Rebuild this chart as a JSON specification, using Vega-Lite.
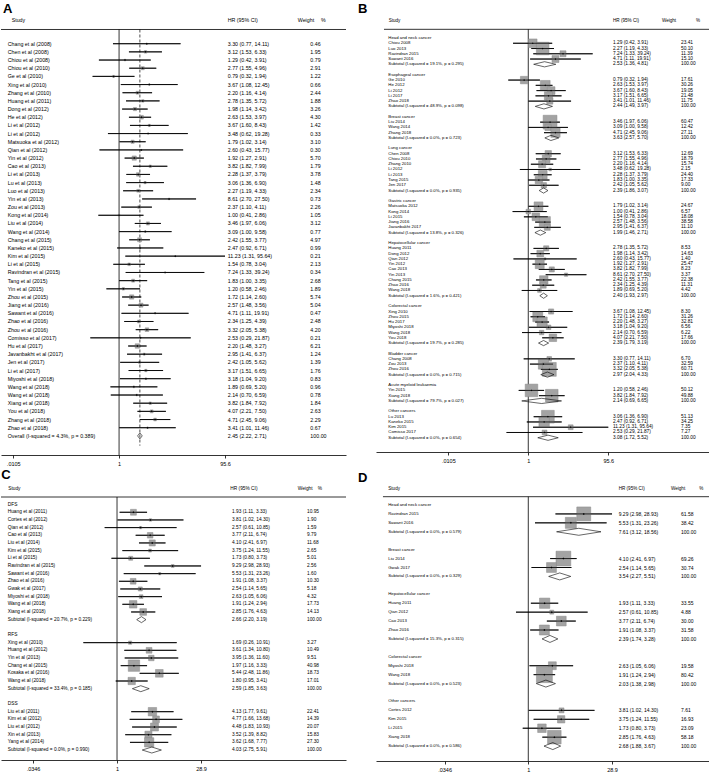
{
"$schema": "https://vega.github.io/schema/vega-lite/v6.json",
"padding": 0,
"background": "white",
"config": {
 "view": {"stroke": null},
 "text": {"font": "Liberation Sans", "color": "black", "baseline": "middle", "align": "left"},
 "rule": {"color": "black", "strokeWidth": 0.8},
 "axis": {"labelFont": "Liberation Sans", "labelColor": "black", "labelFontSize": 5.5, "domainColor": "black", "tickColor": "black", "tickSize": 3, "labelPadding": 3, "domainWidth": 0.8, "tickWidth": 0.8, "grid": false, "labelOverlap": false}
},
"datasets": {
 "A": [
  {"row":0,"label":"Chang et al (2008)","hr":3.30,"lo":0.77,"hi":14.11,"w":0.46,"ci":"3.30 (0.77, 14.11)","kind":"s"},
  {"row":1,"label":"Chen et al (2008)","hr":3.12,"lo":1.53,"hi":6.33,"w":1.95,"ci":"3.12 (1.53, 6.33)","kind":"s"},
  {"row":2,"label":"Chiou et al (2008)","hr":1.29,"lo":0.42,"hi":3.91,"w":0.79,"ci":"1.29 (0.42, 3.91)","kind":"s"},
  {"row":3,"label":"Chiou et al (2010)","hr":2.77,"lo":1.55,"hi":4.96,"w":2.91,"ci":"2.77 (1.55, 4.96)","kind":"s"},
  {"row":4,"label":"Ge et al (2010)","hr":0.79,"lo":0.32,"hi":1.94,"w":1.22,"ci":"0.79 (0.32, 1.94)","kind":"s"},
  {"row":5,"label":"Xing et al (2010)","hr":3.67,"lo":1.08,"hi":12.45,"w":0.66,"ci":"3.67 (1.08, 12.45)","kind":"s"},
  {"row":6,"label":"Zhang et al (2010)","hr":2.20,"lo":1.16,"hi":4.14,"w":2.44,"ci":"2.20 (1.16, 4.14)","kind":"s"},
  {"row":7,"label":"Huang et al (2011)","hr":2.78,"lo":1.35,"hi":5.72,"w":1.88,"ci":"2.78 (1.35, 5.72)","kind":"s"},
  {"row":8,"label":"Dong et al (2012)","hr":1.98,"lo":1.14,"hi":3.42,"w":3.26,"ci":"1.98 (1.14, 3.42)","kind":"s"},
  {"row":9,"label":"He et al (2012)","hr":2.63,"lo":1.53,"hi":3.97,"w":4.30,"ci":"2.63 (1.53, 3.97)","kind":"s"},
  {"row":10,"label":"Li et al (2012)","hr":3.67,"lo":1.60,"hi":8.43,"w":1.42,"ci":"3.67 (1.60, 8.43)","kind":"s"},
  {"row":11,"label":"Li et al (2012)","hr":3.48,"lo":0.62,"hi":19.28,"w":0.33,"ci":"3.48 (0.62, 19.28)","kind":"s"},
  {"row":12,"label":"Matsuoka et al (2012)","hr":1.79,"lo":1.02,"hi":3.14,"w":3.10,"ci":"1.79 (1.02, 3.14)","kind":"s"},
  {"row":13,"label":"Qian et al (2012)","hr":2.60,"lo":0.43,"hi":15.77,"w":0.30,"ci":"2.60 (0.43, 15.77)","kind":"s"},
  {"row":14,"label":"Yin et al (2012)","hr":1.92,"lo":1.27,"hi":2.91,"w":5.70,"ci":"1.92 (1.27, 2.91)","kind":"s"},
  {"row":15,"label":"Cao et al (2013)","hr":3.82,"lo":1.82,"hi":7.99,"w":1.79,"ci":"3.82 (1.82, 7.99)","kind":"s"},
  {"row":16,"label":"Li et al (2013)","hr":2.28,"lo":1.37,"hi":3.79,"w":3.78,"ci":"2.28 (1.37, 3.79)","kind":"s"},
  {"row":17,"label":"Lu et al (2013)","hr":3.06,"lo":1.36,"hi":6.90,"w":1.48,"ci":"3.06 (1.36, 6.90)","kind":"s"},
  {"row":18,"label":"Luo et al (2013)","hr":2.27,"lo":1.19,"hi":4.33,"w":2.34,"ci":"2.27 (1.19, 4.33)","kind":"s"},
  {"row":19,"label":"Yin et al (2013)","hr":8.61,"lo":2.70,"hi":27.50,"w":0.73,"ci":"8.61 (2.70, 27.50)","kind":"s"},
  {"row":20,"label":"Zou et al (2013)","hr":2.37,"lo":1.10,"hi":4.11,"w":2.26,"ci":"2.37 (1.10, 4.11)","kind":"s"},
  {"row":21,"label":"Kong et al (2014)","hr":1.00,"lo":0.41,"hi":2.86,"w":1.05,"ci":"1.00 (0.41, 2.86)","kind":"s"},
  {"row":22,"label":"Liu et al (2014)","hr":3.46,"lo":1.97,"hi":6.06,"w":3.12,"ci":"3.46 (1.97, 6.06)","kind":"s"},
  {"row":23,"label":"Wang et al (2014)","hr":3.09,"lo":1.00,"hi":9.58,"w":0.77,"ci":"3.09 (1.00, 9.58)","kind":"s"},
  {"row":24,"label":"Chang et al (2015)","hr":2.42,"lo":1.55,"hi":3.77,"w":4.97,"ci":"2.42 (1.55, 3.77)","kind":"s"},
  {"row":25,"label":"Kaneko et al (2015)","hr":2.47,"lo":0.92,"hi":6.71,"w":0.99,"ci":"2.47 (0.92, 6.71)","kind":"s"},
  {"row":26,"label":"Kim et al (2015)","hr":11.23,"lo":1.31,"hi":95.64,"w":0.21,"ci":"11.23 (1.31, 95.64)","kind":"s"},
  {"row":27,"label":"Li et al (2015)","hr":1.54,"lo":0.78,"hi":3.04,"w":2.13,"ci":"1.54 (0.78, 3.04)","kind":"s"},
  {"row":28,"label":"Ravindran et al (2015)","hr":7.24,"lo":1.33,"hi":39.24,"w":0.34,"ci":"7.24 (1.33, 39.24)","kind":"s"},
  {"row":29,"label":"Tang et al (2015)","hr":1.83,"lo":1.00,"hi":3.35,"w":2.68,"ci":"1.83 (1.00, 3.35)","kind":"s"},
  {"row":30,"label":"Yin et al (2015)","hr":1.20,"lo":0.58,"hi":2.46,"w":1.89,"ci":"1.20 (0.58, 2.46)","kind":"s"},
  {"row":31,"label":"Zhou et al (2015)","hr":1.72,"lo":1.14,"hi":2.60,"w":5.74,"ci":"1.72 (1.14, 2.60)","kind":"s"},
  {"row":32,"label":"Jiang et al (2016)","hr":2.57,"lo":1.48,"hi":3.56,"w":5.04,"ci":"2.57 (1.48, 3.56)","kind":"s"},
  {"row":33,"label":"Sawant et al (2016)","hr":4.71,"lo":1.11,"hi":19.91,"w":0.47,"ci":"4.71 (1.11, 19.91)","kind":"s"},
  {"row":34,"label":"Zhao et al (2016)","hr":2.34,"lo":1.25,"hi":4.39,"w":2.48,"ci":"2.34 (1.25, 4.39)","kind":"s"},
  {"row":35,"label":"Zhou et al (2016)","hr":3.32,"lo":2.05,"hi":5.38,"w":4.20,"ci":"3.32 (2.05, 5.38)","kind":"s"},
  {"row":36,"label":"Comisso et al (2017)","hr":2.53,"lo":0.29,"hi":21.87,"w":0.21,"ci":"2.53 (0.29, 21.87)","kind":"s"},
  {"row":37,"label":"Hu et al (2017)","hr":2.20,"lo":1.48,"hi":3.27,"w":6.21,"ci":"2.20 (1.48, 3.27)","kind":"s"},
  {"row":38,"label":"Javanbakht et al (2017)","hr":2.95,"lo":1.41,"hi":6.37,"w":1.24,"ci":"2.95 (1.41, 6.37)","kind":"s"},
  {"row":39,"label":"Jen et al (2017)","hr":2.42,"lo":1.05,"hi":5.62,"w":1.39,"ci":"2.42 (1.05, 5.62)","kind":"s"},
  {"row":40,"label":"Li et al (2017)","hr":3.17,"lo":1.51,"hi":6.65,"w":1.76,"ci":"3.17 (1.51, 6.65)","kind":"s"},
  {"row":41,"label":"Miyoshi et al (2018)","hr":3.18,"lo":1.04,"hi":9.20,"w":0.83,"ci":"3.18 (1.04, 9.20)","kind":"s"},
  {"row":42,"label":"Wang et al (2018)","hr":1.89,"lo":0.69,"hi":5.20,"w":0.96,"ci":"1.89 (0.69, 5.20)","kind":"s"},
  {"row":43,"label":"Wang et al (2018)","hr":2.14,"lo":0.70,"hi":6.59,"w":0.78,"ci":"2.14 (0.70, 6.59)","kind":"s"},
  {"row":44,"label":"Xiang et al (2018)","hr":3.82,"lo":1.84,"hi":7.92,"w":1.84,"ci":"3.82 (1.84, 7.92)","kind":"s"},
  {"row":45,"label":"You et al (2018)","hr":4.07,"lo":2.21,"hi":7.50,"w":2.63,"ci":"4.07 (2.21, 7.50)","kind":"s"},
  {"row":46,"label":"Zhang et al (2018)","hr":4.71,"lo":2.45,"hi":9.06,"w":2.29,"ci":"4.71 (2.45, 9.06)","kind":"s"},
  {"row":47,"label":"Zhao et al (2018)","hr":3.41,"lo":1.01,"hi":11.46,"w":0.67,"ci":"3.41 (1.01, 11.46)","kind":"s"},
  {"row":48,"label":"Overall  (I-squared = 4.3%, p = 0.389)","hr":2.45,"lo":2.22,"hi":2.71,"w":100.00,"ci":"2.45 (2.22, 2.71)","kind":"d"}
 ],
 "B": [
  {"row":0,"label":"Head and neck cancer","kind":"g"},
  {"row":1,"label":"Chiou 2008","hr":1.29,"lo":0.42,"hi":3.91,"w":23.41,"ci":"1.29 (0.42, 3.91)","kind":"s"},
  {"row":2,"label":"Luo 2013","hr":2.27,"lo":1.19,"hi":4.33,"w":50.10,"ci":"2.27 (1.19, 4.33)","kind":"s"},
  {"row":3,"label":"Ravindran 2015","hr":7.24,"lo":1.33,"hi":39.24,"w":11.39,"ci":"7.24 (1.33, 39.24)","kind":"s"},
  {"row":4,"label":"Sawant 2016","hr":4.71,"lo":1.11,"hi":19.91,"w":15.10,"ci":"4.71 (1.11, 19.91)","kind":"s"},
  {"row":5,"label":"Subtotal  (I-squared = 19.1%, p = 0.295)","hr":2.53,"lo":1.36,"hi":4.81,"w":100.00,"ci":"2.53 (1.36, 4.81)","kind":"d"},
  {"row":7,"label":"Esophageal cancer","kind":"g"},
  {"row":8,"label":"Ge 2010","hr":0.79,"lo":0.32,"hi":1.94,"w":17.61,"ci":"0.79 (0.32, 1.94)","kind":"s"},
  {"row":9,"label":"He 2012","hr":2.63,"lo":1.53,"hi":3.97,"w":30.26,"ci":"2.63 (1.53, 3.97)","kind":"s"},
  {"row":10,"label":"Li 2012","hr":3.67,"lo":1.60,"hi":8.43,"w":19.05,"ci":"3.67 (1.60, 8.43)","kind":"s"},
  {"row":11,"label":"Li 2017","hr":3.17,"lo":1.51,"hi":6.65,"w":21.48,"ci":"3.17 (1.51, 6.65)","kind":"s"},
  {"row":12,"label":"Zhao 2018","hr":3.41,"lo":1.01,"hi":11.46,"w":11.75,"ci":"3.41 (1.01, 11.46)","kind":"s"},
  {"row":13,"label":"Subtotal  (I-squared = 48.9%, p = 0.098)","hr":2.44,"lo":1.49,"hi":3.97,"w":100.00,"ci":"2.44 (1.49, 3.97)","kind":"d"},
  {"row":15,"label":"Breast cancer","kind":"g"},
  {"row":16,"label":"Liu 2014","hr":3.46,"lo":1.97,"hi":6.06,"w":60.47,"ci":"3.46 (1.97, 6.06)","kind":"s"},
  {"row":17,"label":"Wang 2014","hr":3.09,"lo":1.00,"hi":9.58,"w":12.42,"ci":"3.09 (1.00, 9.58)","kind":"s"},
  {"row":18,"label":"Zhang 2018","hr":4.71,"lo":2.45,"hi":9.06,"w":27.11,"ci":"4.71 (2.45, 9.06)","kind":"s"},
  {"row":19,"label":"Subtotal  (I-squared = 0.0%, p = 0.723)","hr":3.63,"lo":2.57,"hi":5.70,"w":100.00,"ci":"3.63 (2.57, 5.70)","kind":"d"},
  {"row":21,"label":"Lung cancer","kind":"g"},
  {"row":22,"label":"Chen 2008","hr":3.12,"lo":1.53,"hi":6.33,"w":12.69,"ci":"3.12 (1.53, 6.33)","kind":"s"},
  {"row":23,"label":"Chiou 2010","hr":2.77,"lo":1.55,"hi":4.96,"w":18.79,"ci":"2.77 (1.55, 4.96)","kind":"s"},
  {"row":24,"label":"Zhang 2010","hr":2.20,"lo":1.16,"hi":4.14,"w":15.74,"ci":"2.20 (1.16, 4.14)","kind":"s"},
  {"row":25,"label":"Li 2012","hr":3.48,"lo":0.62,"hi":19.28,"w":2.15,"ci":"3.48 (0.62, 19.28)","kind":"s"},
  {"row":26,"label":"Li 2013","hr":2.28,"lo":1.37,"hi":3.79,"w":24.40,"ci":"2.28 (1.37, 3.79)","kind":"s"},
  {"row":27,"label":"Tang 2015","hr":1.83,"lo":1.00,"hi":3.35,"w":17.33,"ci":"1.83 (1.00, 3.35)","kind":"s"},
  {"row":28,"label":"Jen 2017","hr":2.42,"lo":1.05,"hi":5.62,"w":9.00,"ci":"2.42 (1.05, 5.62)","kind":"s"},
  {"row":29,"label":"Subtotal  (I-squared = 0.0%, p = 0.935)","hr":2.39,"lo":1.86,"hi":3.07,"w":100.00,"ci":"2.39 (1.86, 3.07)","kind":"d"},
  {"row":31,"label":"Gastric cancer","kind":"g"},
  {"row":32,"label":"Matsuoka 2012","hr":1.79,"lo":1.02,"hi":3.14,"w":24.67,"ci":"1.79 (1.02, 3.14)","kind":"s"},
  {"row":33,"label":"Kong 2014","hr":1.00,"lo":0.41,"hi":2.86,"w":6.57,"ci":"1.00 (0.41, 2.86)","kind":"s"},
  {"row":34,"label":"Li 2015","hr":1.54,"lo":0.78,"hi":3.04,"w":18.08,"ci":"1.54 (0.78, 3.04)","kind":"s"},
  {"row":35,"label":"Jiang 2016","hr":2.57,"lo":1.48,"hi":3.56,"w":38.58,"ci":"2.57 (1.48, 3.56)","kind":"s"},
  {"row":36,"label":"Javanbakht 2017","hr":2.95,"lo":1.41,"hi":6.37,"w":11.10,"ci":"2.95 (1.41, 6.37)","kind":"s"},
  {"row":37,"label":"Subtotal  (I-squared = 13.8%, p = 0.326)","hr":1.99,"lo":1.46,"hi":2.71,"w":100.00,"ci":"1.99 (1.46, 2.71)","kind":"d"},
  {"row":39,"label":"Hepatocellular cancer","kind":"g"},
  {"row":40,"label":"Huang 2011","hr":2.78,"lo":1.35,"hi":5.72,"w":8.53,"ci":"2.78 (1.35, 5.72)","kind":"s"},
  {"row":41,"label":"Dong 2012","hr":1.98,"lo":1.14,"hi":3.42,"w":14.63,"ci":"1.98 (1.14, 3.42)","kind":"s"},
  {"row":42,"label":"Qian 2012","hr":2.60,"lo":0.43,"hi":15.77,"w":1.40,"ci":"2.60 (0.43, 15.77)","kind":"s"},
  {"row":43,"label":"Yin 2012","hr":1.92,"lo":1.27,"hi":2.91,"w":25.47,"ci":"1.92 (1.27, 2.91)","kind":"s"},
  {"row":44,"label":"Cao 2013","hr":3.82,"lo":1.82,"hi":7.99,"w":8.23,"ci":"3.82 (1.82, 7.99)","kind":"s"},
  {"row":45,"label":"Yin 2013","hr":8.61,"lo":2.70,"hi":27.50,"w":3.37,"ci":"8.61 (2.70, 27.50)","kind":"s"},
  {"row":46,"label":"Chang 2015","hr":2.42,"lo":1.55,"hi":3.77,"w":22.38,"ci":"2.42 (1.55, 3.77)","kind":"s"},
  {"row":47,"label":"Zhao 2016","hr":2.34,"lo":1.25,"hi":4.39,"w":11.31,"ci":"2.34 (1.25, 4.39)","kind":"s"},
  {"row":48,"label":"Wang 2018","hr":1.89,"lo":0.69,"hi":5.20,"w":4.42,"ci":"1.89 (0.69, 5.20)","kind":"s"},
  {"row":49,"label":"Subtotal  (I-squared = 1.6%, p = 0.421)","hr":2.40,"lo":1.93,"hi":2.97,"w":100.00,"ci":"2.40 (1.93, 2.97)","kind":"d"},
  {"row":51,"label":"Colorectal cancer","kind":"g"},
  {"row":52,"label":"Xing 2010","hr":3.67,"lo":1.08,"hi":12.45,"w":8.30,"ci":"3.67 (1.08, 12.45)","kind":"s"},
  {"row":53,"label":"Zhou 2015","hr":1.72,"lo":1.14,"hi":2.60,"w":31.26,"ci":"1.72 (1.14, 2.60)","kind":"s"},
  {"row":54,"label":"Hu 2017","hr":2.20,"lo":1.48,"hi":3.27,"w":32.81,"ci":"2.20 (1.48, 3.27)","kind":"s"},
  {"row":55,"label":"Miyoshi 2018","hr":3.18,"lo":1.04,"hi":9.20,"w":6.56,"ci":"3.18 (1.04, 9.20)","kind":"s"},
  {"row":56,"label":"Wang 2018","hr":2.14,"lo":0.70,"hi":6.59,"w":6.22,"ci":"2.14 (0.70, 6.59)","kind":"s"},
  {"row":57,"label":"You 2018","hr":4.07,"lo":2.21,"hi":7.50,"w":17.66,"ci":"4.07 (2.21, 7.50)","kind":"s"},
  {"row":58,"label":"Subtotal  (I-squared = 19.7%, p = 0.285)","hr":2.39,"lo":1.79,"hi":3.19,"w":100.00,"ci":"2.39 (1.79, 3.19)","kind":"d"},
  {"row":60,"label":"Bladder cancer","kind":"g"},
  {"row":61,"label":"Chang 2008","hr":3.30,"lo":0.77,"hi":14.11,"w":6.70,"ci":"3.30 (0.77, 14.11)","kind":"s"},
  {"row":62,"label":"Zou 2013","hr":2.37,"lo":1.10,"hi":4.11,"w":32.59,"ci":"2.37 (1.10, 4.11)","kind":"s"},
  {"row":63,"label":"Zhou 2016","hr":3.32,"lo":2.05,"hi":5.38,"w":60.71,"ci":"3.32 (2.05, 5.38)","kind":"s"},
  {"row":64,"label":"Subtotal  (I-squared = 0.0%, p = 0.715)","hr":2.97,"lo":2.04,"hi":4.33,"w":100.00,"ci":"2.97 (2.04, 4.33)","kind":"d"},
  {"row":66,"label":"Acute myeloid leukaemia","kind":"g"},
  {"row":67,"label":"Yin 2015","hr":1.20,"lo":0.58,"hi":2.46,"w":50.12,"ci":"1.20 (0.58, 2.46)","kind":"s"},
  {"row":68,"label":"Xiang 2018","hr":3.82,"lo":1.84,"hi":7.92,"w":49.88,"ci":"3.82 (1.84, 7.92)","kind":"s"},
  {"row":69,"label":"Subtotal  (I-squared = 79.7%, p = 0.027)","hr":2.14,"lo":0.69,"hi":6.65,"w":100.00,"ci":"2.14 (0.69, 6.65)","kind":"d"},
  {"row":71,"label":"Other cancers","kind":"g"},
  {"row":72,"label":"Lu 2013","hr":3.06,"lo":1.36,"hi":6.90,"w":51.13,"ci":"3.06 (1.36, 6.90)","kind":"s"},
  {"row":73,"label":"Kaneko 2015","hr":2.47,"lo":0.92,"hi":6.71,"w":34.25,"ci":"2.47 (0.92, 6.71)","kind":"s"},
  {"row":74,"label":"Kim 2015","hr":11.23,"lo":1.31,"hi":95.64,"w":7.35,"ci":"11.23 (1.31, 95.64)","kind":"s"},
  {"row":75,"label":"Comisso 2017","hr":2.53,"lo":0.29,"hi":21.87,"w":7.27,"ci":"2.53 (0.29, 21.87)","kind":"s"},
  {"row":76,"label":"Subtotal  (I-squared = 0.0%, p = 0.654)","hr":3.08,"lo":1.72,"hi":5.52,"w":100.00,"ci":"3.08 (1.72, 5.52)","kind":"d"}
 ],
 "C": [
  {"row":0,"label":"DFS","kind":"g"},
  {"row":1,"label":"Huang et al (2011)","hr":1.93,"lo":1.11,"hi":3.33,"w":10.95,"ci":"1.93 (1.11, 3.33)","kind":"s"},
  {"row":2,"label":"Cortes et al (2012)","hr":3.81,"lo":1.02,"hi":14.30,"w":1.90,"ci":"3.81 (1.02, 14.30)","kind":"s"},
  {"row":3,"label":"Qian et al (2012)","hr":2.57,"lo":0.61,"hi":10.85,"w":1.59,"ci":"2.57 (0.61, 10.85)","kind":"s"},
  {"row":4,"label":"Cao et al (2013)","hr":3.77,"lo":2.11,"hi":6.74,"w":9.79,"ci":"3.77 (2.11, 6.74)","kind":"s"},
  {"row":5,"label":"Liu et al (2014)","hr":4.10,"lo":2.41,"hi":6.97,"w":11.68,"ci":"4.10 (2.41, 6.97)","kind":"s"},
  {"row":6,"label":"Kim et al (2015)","hr":3.75,"lo":1.24,"hi":11.55,"w":2.65,"ci":"3.75 (1.24, 11.55)","kind":"s"},
  {"row":7,"label":"Li et al (2015)","hr":1.73,"lo":0.80,"hi":3.73,"w":5.01,"ci":"1.73 (0.80, 3.73)","kind":"s"},
  {"row":8,"label":"Ravindran et al (2015)","hr":9.29,"lo":2.98,"hi":28.93,"w":2.56,"ci":"9.29 (2.98, 28.93)","kind":"s"},
  {"row":9,"label":"Sawant et al (2016)","hr":5.53,"lo":1.31,"hi":23.26,"w":1.60,"ci":"5.53 (1.31, 23.26)","kind":"s"},
  {"row":10,"label":"Zhao et al (2016)","hr":1.91,"lo":1.08,"hi":3.37,"w":10.30,"ci":"1.91 (1.08, 3.37)","kind":"s"},
  {"row":11,"label":"Gwak et al (2017)","hr":2.54,"lo":1.14,"hi":5.65,"w":5.18,"ci":"2.54 (1.14, 5.65)","kind":"s"},
  {"row":12,"label":"Miyoshi et al (2018)","hr":2.63,"lo":1.05,"hi":6.06,"w":4.32,"ci":"2.63 (1.05, 6.06)","kind":"s"},
  {"row":13,"label":"Wang et al (2018)","hr":1.91,"lo":1.24,"hi":2.94,"w":17.73,"ci":"1.91 (1.24, 2.94)","kind":"s"},
  {"row":14,"label":"Xiang et al (2018)","hr":2.85,"lo":1.76,"hi":4.63,"w":14.13,"ci":"2.85 (1.76, 4.63)","kind":"s"},
  {"row":15,"label":"Subtotal  (I-squared = 20.7%, p = 0.229)","hr":2.66,"lo":2.20,"hi":3.19,"w":100.00,"ci":"2.66 (2.20, 3.19)","kind":"d"},
  {"row":17,"label":"RFS","kind":"g"},
  {"row":18,"label":"Xing et al (2010)","hr":1.69,"lo":0.26,"hi":10.91,"w":3.27,"ci":"1.69 (0.26, 10.91)","kind":"s"},
  {"row":19,"label":"Huang et al (2012)","hr":3.61,"lo":1.34,"hi":10.80,"w":10.49,"ci":"3.61 (1.34, 10.80)","kind":"s"},
  {"row":20,"label":"Yin et al (2013)","hr":3.95,"lo":1.36,"hi":11.60,"w":9.51,"ci":"3.95 (1.36, 11.60)","kind":"s"},
  {"row":21,"label":"Chang et al (2015)","hr":1.97,"lo":1.16,"hi":3.33,"w":40.98,"ci":"1.97 (1.16, 3.33)","kind":"s"},
  {"row":22,"label":"Kosaka et al (2016)","hr":5.44,"lo":2.48,"hi":11.86,"w":18.73,"ci":"5.44 (2.48, 11.86)","kind":"s"},
  {"row":23,"label":"Wang et al (2018)","hr":1.80,"lo":0.95,"hi":3.41,"w":17.01,"ci":"1.80 (0.95, 3.41)","kind":"s"},
  {"row":24,"label":"Subtotal  (I-squared = 33.4%, p = 0.185)","hr":2.59,"lo":1.85,"hi":3.63,"w":100.00,"ci":"2.59 (1.85, 3.63)","kind":"d"},
  {"row":26,"label":"DSS","kind":"g"},
  {"row":27,"label":"Liu et al (2011)","hr":4.13,"lo":1.77,"hi":9.61,"w":22.41,"ci":"4.13 (1.77, 9.61)","kind":"s"},
  {"row":28,"label":"Kim et al (2012)","hr":4.77,"lo":1.66,"hi":13.68,"w":14.39,"ci":"4.77 (1.66, 13.68)","kind":"s"},
  {"row":29,"label":"Liu et al (2012)","hr":4.48,"lo":1.83,"hi":10.93,"w":20.07,"ci":"4.48 (1.83, 10.93)","kind":"s"},
  {"row":30,"label":"Xin et al (2013)","hr":3.52,"lo":1.39,"hi":8.82,"w":15.83,"ci":"3.52 (1.39, 8.82)","kind":"s"},
  {"row":31,"label":"Yang et al (2014)","hr":3.62,"lo":1.68,"hi":7.77,"w":27.30,"ci":"3.62 (1.68, 7.77)","kind":"s"},
  {"row":32,"label":"Subtotal  (I-squared = 0.0%, p = 0.990)","hr":4.03,"lo":2.75,"hi":5.91,"w":100.00,"ci":"4.03 (2.75, 5.91)","kind":"d"}
 ],
 "D": [
  {"row":0,"label":"Head and neck cancer","kind":"g"},
  {"row":1,"label":"Ravindran 2015","hr":9.29,"lo":2.98,"hi":28.93,"w":61.58,"ci":"9.29 (2.98, 28.93)","kind":"s"},
  {"row":2,"label":"Sawant 2016","hr":5.53,"lo":1.31,"hi":23.26,"w":38.42,"ci":"5.53 (1.31, 23.26)","kind":"s"},
  {"row":3,"label":"Subtotal  (I-squared = 0.0%, p = 0.579)","hr":7.61,"lo":3.12,"hi":18.56,"w":100.00,"ci":"7.61 (3.12, 18.56)","kind":"d"},
  {"row":5,"label":"Breast cancer","kind":"g"},
  {"row":6,"label":"Liu 2014","hr":4.10,"lo":2.41,"hi":6.97,"w":69.26,"ci":"4.10 (2.41, 6.97)","kind":"s"},
  {"row":7,"label":"Gwak 2017","hr":2.54,"lo":1.14,"hi":5.65,"w":30.74,"ci":"2.54 (1.14, 5.65)","kind":"s"},
  {"row":8,"label":"Subtotal  (I-squared = 0.0%, p = 0.329)","hr":3.54,"lo":2.27,"hi":5.51,"w":100.00,"ci":"3.54 (2.27, 5.51)","kind":"d"},
  {"row":10,"label":"Hepatocellular cancer","kind":"g"},
  {"row":11,"label":"Huang 2011","hr":1.93,"lo":1.11,"hi":3.33,"w":33.55,"ci":"1.93 (1.11, 3.33)","kind":"s"},
  {"row":12,"label":"Qian 2012","hr":2.57,"lo":0.61,"hi":10.85,"w":4.88,"ci":"2.57 (0.61, 10.85)","kind":"s"},
  {"row":13,"label":"Cao 2013","hr":3.77,"lo":2.11,"hi":6.74,"w":30.00,"ci":"3.77 (2.11, 6.74)","kind":"s"},
  {"row":14,"label":"Zhao 2016","hr":1.91,"lo":1.08,"hi":3.37,"w":31.58,"ci":"1.91 (1.08, 3.37)","kind":"s"},
  {"row":15,"label":"Subtotal  (I-squared = 15.3%, p = 0.315)","hr":2.39,"lo":1.74,"hi":3.28,"w":100.00,"ci":"2.39 (1.74, 3.28)","kind":"d"},
  {"row":17,"label":"Colorectal cancer","kind":"g"},
  {"row":18,"label":"Miyoshi 2018","hr":2.63,"lo":1.05,"hi":6.06,"w":19.58,"ci":"2.63 (1.05, 6.06)","kind":"s"},
  {"row":19,"label":"Wang 2018","hr":1.91,"lo":1.24,"hi":2.94,"w":80.42,"ci":"1.91 (1.24, 2.94)","kind":"s"},
  {"row":20,"label":"Subtotal  (I-squared = 0.0%, p = 0.523)","hr":2.03,"lo":1.38,"hi":2.98,"w":100.00,"ci":"2.03 (1.38, 2.98)","kind":"d"},
  {"row":22,"label":"Other cancers","kind":"g"},
  {"row":23,"label":"Cortes 2012","hr":3.81,"lo":1.02,"hi":14.30,"w":7.61,"ci":"3.81 (1.02, 14.30)","kind":"s"},
  {"row":24,"label":"Kim 2015","hr":3.75,"lo":1.24,"hi":11.55,"w":16.93,"ci":"3.75 (1.24, 11.55)","kind":"s"},
  {"row":25,"label":"Li 2015","hr":1.73,"lo":0.80,"hi":3.73,"w":23.09,"ci":"1.73 (0.80, 3.73)","kind":"s"},
  {"row":26,"label":"Xiang 2018","hr":2.85,"lo":1.76,"hi":4.63,"w":58.18,"ci":"2.85 (1.76, 4.63)","kind":"s"},
  {"row":27,"label":"Subtotal  (I-squared = 0.0%, p = 0.586)","hr":2.68,"lo":1.88,"hi":3.67,"w":100.00,"ci":"2.68 (1.88, 3.67)","kind":"d"}
 ]
},
"columns": 2,
"bounds": "flush",
"spacing": {"row": 13, "column": 30},
"concat": [
 {
  "width": 345, "height": 455,
  "data": {"name": "A"},
  "layer": [
   {"transform": [{"filter": "datum.kind == 's'"}], "mark": {"type": "rule"},
    "encoding": {"x": {"field": "lo", "type": "quantitative", "scale": {"type": "log", "domain": [0.0062, 17500], "nice": false}, "axis": {"values": [0.0105, 1, 95.6], "labelExpr": "datum.value < 1 ? '.' + substring(format(datum.value, '.4f'), 2) : format(datum.value, '~g')", "title": null}}, "x2": {"field": "hi"}, "y": {"field": "row", "type": "quantitative", "scale": {"type": "linear", "domain": [-5.349, 50.34], "reverse": true, "nice": false, "zero": false}, "axis": null}}},
   {"data": {"values": [{}]}, "mark": {"type": "text", "text": "A", "fontSize": 13, "fontWeight": "bold"},
    "encoding": {"x": {"datum": 0.00676, "type": "quantitative"}, "y": {"datum": -4.25, "type": "quantitative"}}},
   {"data": {"values": [{}]}, "mark": {"type": "text", "text": "Study", "fontSize": 5.3},
    "encoding": {"x": {"datum": 0.0098, "type": "quantitative"}, "y": {"datum": -2.9, "type": "quantitative"}}},
   {"data": {"values": [{}]}, "mark": {"type": "text", "text": "HR (95% CI)", "fontSize": 5.3},
    "encoding": {"x": {"datum": 107.5, "type": "quantitative"}, "y": {"datum": -2.9, "type": "quantitative"}}},
   {"data": {"values": [{}]}, "mark": {"type": "text", "text": "Weight", "fontSize": 5.3},
    "encoding": {"x": {"datum": 2190, "type": "quantitative"}, "y": {"datum": -2.9, "type": "quantitative"}}},
   {"data": {"values": [{}]}, "mark": {"type": "text", "text": "%", "fontSize": 5.3},
    "encoding": {"x": {"datum": 5970, "type": "quantitative"}, "y": {"datum": -2.9, "type": "quantitative"}}},
   {"data": {"values": [{}]}, "mark": {"type": "rule"},
    "encoding": {"y": {"datum": -1.74, "type": "quantitative"}}},
   {"data": {"values": [{}]}, "mark": {"type": "rule"},
    "encoding": {"x": {"datum": 1, "type": "quantitative"}, "y": {"datum": -1.74, "type": "quantitative"}, "y2": {"datum": 50.34}}},
   {"transform": [{"filter": "datum.kind == 'd'"}], "mark": {"type": "rule", "strokeDash": [3, 2], "strokeWidth": 0.7},
    "encoding": {"x": {"field": "hr", "type": "quantitative"}, "y": {"datum": -1.74, "type": "quantitative"}, "y2": {"datum": 49.2}}},
   {"transform": [{"filter": "datum.kind == 's'"}], "mark": {"type": "point", "shape": "square", "filled": true, "fill": "#a3a3a3", "stroke": "#8a8a8a", "strokeWidth": 0.5, "opacity": 1},
    "encoding": {"x": {"field": "hr", "type": "quantitative"}, "y": {"field": "row", "type": "quantitative"}, "size": {"field": "w", "type": "quantitative", "scale": {"type": "linear", "domain": [0, 10], "range": [0, 316]}, "legend": null}}},
   {"transform": [{"filter": "datum.kind == 's'"}], "mark": {"type": "rule"},
    "encoding": {"x": {"field": "lo", "type": "quantitative"}, "x2": {"field": "hi"}, "y": {"field": "row", "type": "quantitative"}}},
   {"transform": [{"filter": "datum.kind == 's'"}], "mark": {"type": "point", "shape": "diamond", "filled": true, "color": "black", "size": 4, "opacity": 1},
    "encoding": {"x": {"field": "hr", "type": "quantitative"}, "y": {"field": "row", "type": "quantitative"}}},
   {"transform": [{"filter": "datum.kind == 'd'"}, {"fold": ["lo", "hi"], "as": ["k", "v"]}], "mark": {"type": "rule", "y2Offset": -3, "strokeWidth": 0.6},
    "encoding": {"x": {"field": "v", "type": "quantitative"}, "x2": {"field": "hr"}, "y": {"field": "row", "type": "quantitative"}, "y2": {"field": "row"}}},
   {"transform": [{"filter": "datum.kind == 'd'"}, {"fold": ["lo", "hi"], "as": ["k", "v"]}], "mark": {"type": "rule", "y2Offset": 3, "strokeWidth": 0.6},
    "encoding": {"x": {"field": "v", "type": "quantitative"}, "x2": {"field": "hr"}, "y": {"field": "row", "type": "quantitative"}, "y2": {"field": "row"}}},
   {"mark": {"type": "text", "fontSize": 5.3},
    "encoding": {"x": {"datum": 0.00828, "type": "quantitative"}, "y": {"field": "row", "type": "quantitative"}, "text": {"field": "label"}}},
   {"transform": [{"filter": "isValid(datum.ci)"}], "mark": {"type": "text", "fontSize": 5.3},
    "encoding": {"x": {"datum": 107.5, "type": "quantitative"}, "y": {"field": "row", "type": "quantitative"}, "text": {"field": "ci"}}},
   {"transform": [{"filter": "isValid(datum.w)"}], "mark": {"type": "text", "fontSize": 5.3},
    "encoding": {"x": {"datum": 3770, "type": "quantitative"}, "y": {"field": "row", "type": "quantitative"}, "text": {"field": "w", "type": "quantitative", "format": ".2f"}}}
  ]
 },
 {
  "width": 334, "height": 452,
  "data": {"name": "B"},
  "layer": [
   {"transform": [{"filter": "datum.kind == 's'"}], "mark": {"type": "rule"},
    "encoding": {"x": {"field": "lo", "type": "quantitative", "scale": {"type": "log", "domain": [0.00017, 31500], "nice": false}, "axis": {"values": [0.0105, 1, 95.6], "labelExpr": "datum.value < 1 ? '.' + substring(format(datum.value, '.4f'), 2) : format(datum.value, '~g')", "title": null}}, "x2": {"field": "hi"}, "y": {"field": "row", "type": "quantitative", "scale": {"type": "linear", "domain": [-7.224, 78.71], "reverse": true, "nice": false, "zero": false}, "axis": null}}},
   {"data": {"values": [{}]}, "mark": {"type": "text", "text": "B", "fontSize": 13, "fontWeight": "bold"},
    "encoding": {"x": {"datum": 0.0000609, "type": "quantitative"}, "y": {"datum": -5.57, "type": "quantitative"}}},
   {"data": {"values": [{}]}, "mark": {"type": "text", "text": "Study", "fontSize": 4.6},
    "encoding": {"x": {"datum": 0.00035, "type": "quantitative"}, "y": {"datum": -3.29, "type": "quantitative"}}},
   {"data": {"values": [{}]}, "mark": {"type": "text", "text": "HR (95% CI)", "fontSize": 4.6},
    "encoding": {"x": {"datum": 125, "type": "quantitative"}, "y": {"datum": -3.29, "type": "quantitative"}}},
   {"data": {"values": [{}]}, "mark": {"type": "text", "text": "Weight", "fontSize": 4.6},
    "encoding": {"x": {"datum": 2030, "type": "quantitative"}, "y": {"datum": -3.29, "type": "quantitative"}}},
   {"data": {"values": [{}]}, "mark": {"type": "text", "text": "%", "fontSize": 4.6},
    "encoding": {"x": {"datum": 14150, "type": "quantitative"}, "y": {"datum": -3.29, "type": "quantitative"}}},
   {"data": {"values": [{}]}, "mark": {"type": "rule"},
    "encoding": {"x": {"datum": 0.000268, "type": "quantitative"}, "x2": {"datum": 31500}, "y": {"datum": -1.65, "type": "quantitative"}}},
   {"data": {"values": [{}]}, "mark": {"type": "rule"},
    "encoding": {"x": {"datum": 1, "type": "quantitative"}, "y": {"datum": -1.65, "type": "quantitative"}, "y2": {"datum": 78.71}}},
   {"transform": [{"filter": "datum.kind == 's'"}], "mark": {"type": "point", "shape": "square", "filled": true, "fill": "#a3a3a3", "stroke": "#8a8a8a", "strokeWidth": 0.5, "opacity": 1},
    "encoding": {"x": {"field": "hr", "type": "quantitative"}, "y": {"field": "row", "type": "quantitative"}, "size": {"field": "w", "type": "quantitative", "scale": {"type": "linear", "domain": [0, 100], "range": [0, 370]}, "legend": null}}},
   {"transform": [{"filter": "datum.kind == 's'"}], "mark": {"type": "rule"},
    "encoding": {"x": {"field": "lo", "type": "quantitative"}, "x2": {"field": "hi"}, "y": {"field": "row", "type": "quantitative"}}},
   {"transform": [{"filter": "datum.kind == 's'"}], "mark": {"type": "point", "shape": "diamond", "filled": true, "color": "black", "size": 3, "opacity": 1},
    "encoding": {"x": {"field": "hr", "type": "quantitative"}, "y": {"field": "row", "type": "quantitative"}}},
   {"transform": [{"filter": "datum.kind == 'd'"}, {"fold": ["lo", "hi"], "as": ["k", "v"]}], "mark": {"type": "rule", "y2Offset": -2.6, "strokeWidth": 0.6},
    "encoding": {"x": {"field": "v", "type": "quantitative"}, "x2": {"field": "hr"}, "y": {"field": "row", "type": "quantitative"}, "y2": {"field": "row"}}},
   {"transform": [{"filter": "datum.kind == 'd'"}, {"fold": ["lo", "hi"], "as": ["k", "v"]}], "mark": {"type": "rule", "y2Offset": 2.6, "strokeWidth": 0.6},
    "encoding": {"x": {"field": "v", "type": "quantitative"}, "x2": {"field": "hr"}, "y": {"field": "row", "type": "quantitative"}, "y2": {"field": "row"}}},
   {"mark": {"type": "text", "fontSize": 4.3},
    "encoding": {"x": {"datum": 0.000343, "type": "quantitative"}, "y": {"field": "row", "type": "quantitative"}, "text": {"field": "label"}}},
   {"transform": [{"filter": "isValid(datum.ci)"}], "mark": {"type": "text", "fontSize": 4.8},
    "encoding": {"x": {"datum": 125, "type": "quantitative"}, "y": {"field": "row", "type": "quantitative"}, "text": {"field": "ci"}}},
   {"transform": [{"filter": "isValid(datum.w)"}], "mark": {"type": "text", "fontSize": 4.8},
    "encoding": {"x": {"datum": 6020, "type": "quantitative"}, "y": {"field": "row", "type": "quantitative"}, "text": {"field": "w", "type": "quantitative", "format": ".2f"}}}
  ]
 },
 {
  "width": 345, "height": 292,
  "data": {"name": "C"},
  "layer": [
   {"transform": [{"filter": "datum.kind == 's'"}], "mark": {"type": "rule"},
    "encoding": {"x": {"field": "lo", "type": "quantitative", "scale": {"type": "log", "domain": [0.0096, 9600], "nice": false}, "axis": {"values": [0.0346, 1, 28.9], "labelExpr": "datum.value < 1 ? '.' + substring(format(datum.value, '.4f'), 2) : format(datum.value, '~g')", "title": null}}, "x2": {"field": "hi"}, "y": {"field": "row", "type": "quantitative", "scale": {"type": "linear", "domain": [-4.772, 33.3], "reverse": true, "nice": false, "zero": false}, "axis": null}}},
   {"data": {"values": [{}]}, "mark": {"type": "text", "text": "C", "fontSize": 13, "fontWeight": "bold"},
    "encoding": {"x": {"datum": 0.0097, "type": "quantitative"}, "y": {"datum": -3.86, "type": "quantitative"}}},
   {"data": {"values": [{}]}, "mark": {"type": "text", "text": "Study", "fontSize": 4.8},
    "encoding": {"x": {"datum": 0.0128, "type": "quantitative"}, "y": {"datum": -2.03, "type": "quantitative"}}},
   {"data": {"values": [{}]}, "mark": {"type": "text", "text": "HR (95% CI)", "fontSize": 4.8},
    "encoding": {"x": {"datum": 93.4, "type": "quantitative"}, "y": {"datum": -2.03, "type": "quantitative"}}},
   {"data": {"values": [{}]}, "mark": {"type": "text", "text": "Weight", "fontSize": 4.8},
    "encoding": {"x": {"datum": 1389, "type": "quantitative"}, "y": {"datum": -2.03, "type": "quantitative"}}},
   {"data": {"values": [{}]}, "mark": {"type": "text", "text": "%", "fontSize": 4.8},
    "encoding": {"x": {"datum": 3090, "type": "quantitative"}, "y": {"datum": -2.03, "type": "quantitative"}}},
   {"data": {"values": [{}]}, "mark": {"type": "rule"},
    "encoding": {"y": {"datum": -0.99, "type": "quantitative"}}},
   {"data": {"values": [{}]}, "mark": {"type": "rule"},
    "encoding": {"x": {"datum": 1, "type": "quantitative"}, "y": {"datum": -0.99, "type": "quantitative"}, "y2": {"datum": 33.3}}},
   {"transform": [{"filter": "datum.kind == 's'"}], "mark": {"type": "point", "shape": "square", "filled": true, "fill": "#a3a3a3", "stroke": "#8a8a8a", "strokeWidth": 0.5, "opacity": 1},
    "encoding": {"x": {"field": "hr", "type": "quantitative"}, "y": {"field": "row", "type": "quantitative"}, "size": {"field": "w", "type": "quantitative", "scale": {"type": "linear", "domain": [0, 100], "range": [0, 600]}, "legend": null}}},
   {"transform": [{"filter": "datum.kind == 's'"}], "mark": {"type": "rule"},
    "encoding": {"x": {"field": "lo", "type": "quantitative"}, "x2": {"field": "hi"}, "y": {"field": "row", "type": "quantitative"}}},
   {"transform": [{"filter": "datum.kind == 's'"}], "mark": {"type": "point", "shape": "diamond", "filled": true, "color": "black", "size": 4, "opacity": 1},
    "encoding": {"x": {"field": "hr", "type": "quantitative"}, "y": {"field": "row", "type": "quantitative"}}},
   {"transform": [{"filter": "datum.kind == 'd'"}, {"fold": ["lo", "hi"], "as": ["k", "v"]}], "mark": {"type": "rule", "y2Offset": -3, "strokeWidth": 0.6},
    "encoding": {"x": {"field": "v", "type": "quantitative"}, "x2": {"field": "hr"}, "y": {"field": "row", "type": "quantitative"}, "y2": {"field": "row"}}},
   {"transform": [{"filter": "datum.kind == 'd'"}, {"fold": ["lo", "hi"], "as": ["k", "v"]}], "mark": {"type": "rule", "y2Offset": 3, "strokeWidth": 0.6},
    "encoding": {"x": {"field": "v", "type": "quantitative"}, "x2": {"field": "hr"}, "y": {"field": "row", "type": "quantitative"}, "y2": {"field": "row"}}},
   {"mark": {"type": "text", "fontSize": 4.8},
    "encoding": {"x": {"datum": 0.01257, "type": "quantitative"}, "y": {"field": "row", "type": "quantitative"}, "text": {"field": "label"}}},
   {"transform": [{"filter": "isValid(datum.ci)"}], "mark": {"type": "text", "fontSize": 4.8},
    "encoding": {"x": {"datum": 100, "type": "quantitative"}, "y": {"field": "row", "type": "quantitative"}, "text": {"field": "ci"}}},
   {"transform": [{"filter": "isValid(datum.w)"}], "mark": {"type": "text", "fontSize": 4.8},
    "encoding": {"x": {"datum": 2015, "type": "quantitative"}, "y": {"field": "row", "type": "quantitative"}, "text": {"field": "w", "type": "quantitative", "format": ".2f"}}}
  ]
 },
 {
  "width": 334, "height": 293,
  "data": {"name": "D"},
  "layer": [
   {"transform": [{"filter": "datum.kind == 's'"}], "mark": {"type": "rule"},
    "encoding": {"x": {"field": "lo", "type": "quantitative", "scale": {"type": "log", "domain": [0.0022, 1483], "nice": false}, "axis": {"values": [0.0346, 1, 28.9], "labelExpr": "datum.value < 1 ? '.' + substring(format(datum.value, '.4f'), 2) : format(datum.value, '~g')", "title": null}}, "x2": {"field": "hi"}, "y": {"field": "row", "type": "quantitative", "scale": {"type": "linear", "domain": [-4.143, 28.67], "reverse": true, "nice": false, "zero": false}, "axis": null}}},
   {"data": {"values": [{}]}, "mark": {"type": "text", "text": "D", "fontSize": 13, "fontWeight": "bold"},
    "encoding": {"x": {"datum": 0.00107, "type": "quantitative"}, "y": {"datum": -3.02, "type": "quantitative"}}},
   {"data": {"values": [{}]}, "mark": {"type": "text", "text": "Study", "fontSize": 4.6},
    "encoding": {"x": {"datum": 0.0036, "type": "quantitative"}, "y": {"datum": -1.79, "type": "quantitative"}}},
   {"data": {"values": [{}]}, "mark": {"type": "text", "text": "HR (95% CI)", "fontSize": 4.6},
    "encoding": {"x": {"datum": 37.8, "type": "quantitative"}, "y": {"datum": -1.79, "type": "quantitative"}}},
   {"data": {"values": [{}]}, "mark": {"type": "text", "text": "Weight", "fontSize": 4.6},
    "encoding": {"x": {"datum": 309, "type": "quantitative"}, "y": {"datum": -1.79, "type": "quantitative"}}},
   {"data": {"values": [{}]}, "mark": {"type": "text", "text": "%", "fontSize": 4.6},
    "encoding": {"x": {"datum": 964, "type": "quantitative"}, "y": {"datum": -1.79, "type": "quantitative"}}},
   {"data": {"values": [{}]}, "mark": {"type": "rule"},
    "encoding": {"x": {"datum": 0.00291, "type": "quantitative"}, "x2": {"datum": 1483}, "y": {"datum": -0.93, "type": "quantitative"}}},
   {"data": {"values": [{}]}, "mark": {"type": "rule"},
    "encoding": {"x": {"datum": 1, "type": "quantitative"}, "y": {"datum": -0.93, "type": "quantitative"}, "y2": {"datum": 28.67}}},
   {"transform": [{"filter": "datum.kind == 's'"}], "mark": {"type": "point", "shape": "square", "filled": true, "fill": "#a3a3a3", "stroke": "#8a8a8a", "strokeWidth": 0.5, "opacity": 1},
    "encoding": {"x": {"field": "hr", "type": "quantitative"}, "y": {"field": "row", "type": "quantitative"}, "size": {"field": "w", "type": "quantitative", "scale": {"type": "linear", "domain": [0, 100], "range": [0, 230]}, "legend": null}}},
   {"transform": [{"filter": "datum.kind == 's'"}], "mark": {"type": "rule"},
    "encoding": {"x": {"field": "lo", "type": "quantitative"}, "x2": {"field": "hi"}, "y": {"field": "row", "type": "quantitative"}}},
   {"transform": [{"filter": "datum.kind == 's'"}], "mark": {"type": "point", "shape": "diamond", "filled": true, "color": "black", "size": 4, "opacity": 1},
    "encoding": {"x": {"field": "hr", "type": "quantitative"}, "y": {"field": "row", "type": "quantitative"}}},
   {"transform": [{"filter": "datum.kind == 'd'"}, {"fold": ["lo", "hi"], "as": ["k", "v"]}], "mark": {"type": "rule", "y2Offset": -3.5, "strokeWidth": 0.6},
    "encoding": {"x": {"field": "v", "type": "quantitative"}, "x2": {"field": "hr"}, "y": {"field": "row", "type": "quantitative"}, "y2": {"field": "row"}}},
   {"transform": [{"filter": "datum.kind == 'd'"}, {"fold": ["lo", "hi"], "as": ["k", "v"]}], "mark": {"type": "rule", "y2Offset": 3.5, "strokeWidth": 0.6},
    "encoding": {"x": {"field": "v", "type": "quantitative"}, "x2": {"field": "hr"}, "y": {"field": "row", "type": "quantitative"}, "y2": {"field": "row"}}},
   {"mark": {"type": "text", "fontSize": 4.3},
    "encoding": {"x": {"datum": 0.0036, "type": "quantitative"}, "y": {"field": "row", "type": "quantitative"}, "text": {"field": "label"}}},
   {"transform": [{"filter": "isValid(datum.ci)"}], "mark": {"type": "text", "fontSize": 5},
    "encoding": {"x": {"datum": 37.8, "type": "quantitative"}, "y": {"field": "row", "type": "quantitative"}, "text": {"field": "ci"}}},
   {"transform": [{"filter": "isValid(datum.w)"}], "mark": {"type": "text", "fontSize": 5},
    "encoding": {"x": {"datum": 462, "type": "quantitative"}, "y": {"field": "row", "type": "quantitative"}, "text": {"field": "w", "type": "quantitative", "format": ".2f"}}}
  ]
 }
]
}
